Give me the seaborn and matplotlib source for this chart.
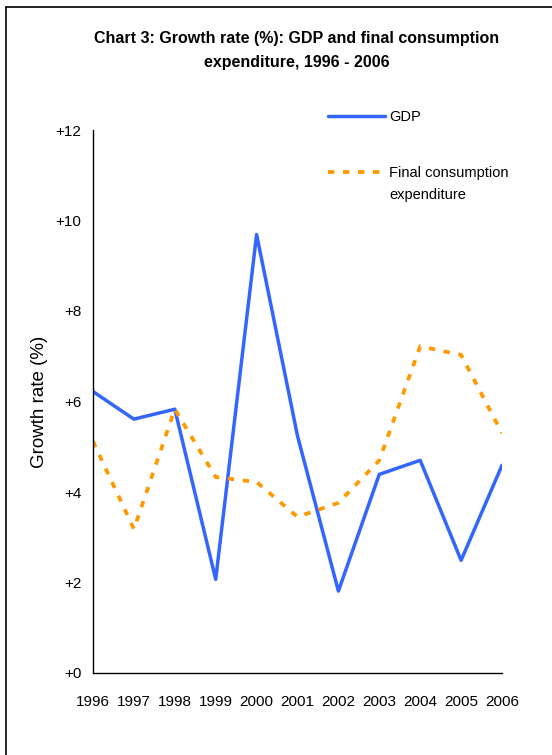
import matplotlib
matplotlib.use("Agg")
import matplotlib.pyplot as plt
import seaborn as sns
import pandas as pd
from matplotlib.lines import Line2D
from matplotlib import font_manager

years = [1996, 1997, 1998, 1999, 2000, 2001, 2002, 2003, 2004, 2005, 2006]
gdp = [6.22, 5.61, 5.83, 2.07, 9.69, 5.24, 1.81, 4.39, 4.70, 2.49, 4.59]
fce = [5.12, 3.18, 5.83, 4.33, 4.22, 3.45, 3.76, 4.70, 7.22, 7.03, 5.30]
yticks = [0, 2, 4, 6, 8, 10, 12]
ytick_labels = ["+0", "+2", "+4", "+6", "+8", "+10", "+12"]

sns.set_theme(style="white")
names = {f.name for f in font_manager.fontManager.ttflist}
fam = [f for f in ["Liberation Sans Narrow", "Liberation Sans", "DejaVu Sans"] if f in names]
plt.rcParams["font.family"] = fam

W, H = 552, 755
fig = plt.figure(figsize=(W / 100, H / 100), dpi=100)
ax = fig.add_axes([93 / W, 1 - 673 / H, (502 - 93) / W, (673 - 130) / H])

df = pd.DataFrame({"year": years, "GDP": gdp, "FCE": fce})
sns.lineplot(data=df, x="year", y="GDP", ax=ax, color="#3366FF", linewidth=2.5,
             label="GDP")
sns.lineplot(data=df, x="year", y="FCE", ax=ax, color="#FF9900", linewidth=2.7,
             linestyle=(0, (1.7, 2.3)), label="Final consumption")

ax.set_xlim(1996, 2006)
ax.set_ylim(0, 12)
ax.set_xticks(years)
ax.set_xticklabels([str(y) for y in years])
ax.set_yticks(yticks)
ax.set_yticklabels(ytick_labels)
for s in ["top", "right"]:
    ax.spines[s].set_visible(False)
for s in ["left", "bottom"]:
    ax.spines[s].set_color("black")
    ax.spines[s].set_linewidth(1.0)
tfs = 11
ax.tick_params(axis="x", direction="out", length=4, width=1, color="black",
               pad=12, labelsize=tfs, labelcolor="black")
ax.tick_params(axis="y", direction="out", length=4, width=1, color="black",
               pad=4.5, labelsize=tfs, labelcolor="black")
ax.set_xlabel("")
ax.set_ylabel("Growth rate (%)", fontsize=13.5, color="black")
ax.yaxis.set_label_coords(-0.111, 0.5)

fs = 10.5
leg = ax.legend(loc="upper left", bbox_to_anchor=(328 / W, 1 - 110 / H),
                bbox_transform=fig.transFigure, frameon=False, fontsize=fs,
                handlelength=3.9, handletextpad=0.27, labelspacing=2.9,
                borderaxespad=0, borderpad=0)
for t in leg.get_texts():
    t.set_color("black")
fig.text(389 / W, 1 - 195 / H, "expenditure", fontsize=fs, color="black",
         ha="left", va="center")

fig.text(297 / W, 1 - 38 / H, "Chart 3: Growth rate (%): GDP and final consumption",
         fontsize=11.5, fontweight="bold", ha="center", va="center", color="black")
fig.text(297 / W, 1 - 63 / H, "expenditure, 1996 - 2006",
         fontsize=11.5, fontweight="bold", ha="center", va="center", color="black")

fig.add_artist(Line2D([6 / W, 6 / W], [0, 1 - 7 / H], transform=fig.transFigure,
                      color="black", linewidth=1.2))
fig.add_artist(Line2D([6 / W, 1], [1 - 7 / H, 1 - 7 / H], transform=fig.transFigure,
                      color="black", linewidth=1.2))

fig.savefig("out.png", dpi=100)
